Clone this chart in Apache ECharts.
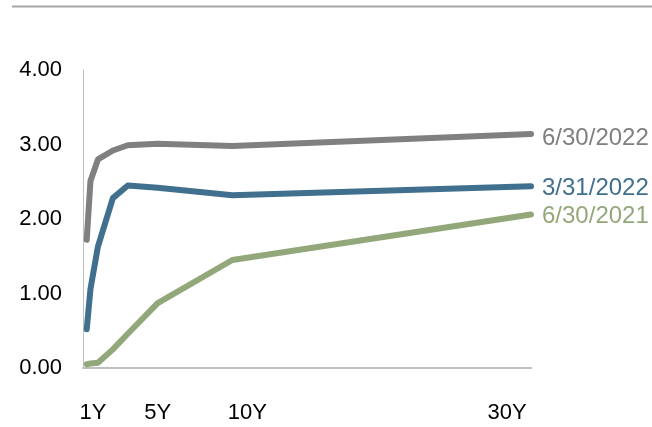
<!DOCTYPE html>
<html>
<head>
<meta charset="utf-8">
<script src="https://cdn.jsdelivr.net/npm/echarts@6/dist/echarts.min.js"></script>
<style>html,body{margin:0;padding:0;background:#fff}#c{width:652px;height:427px}</style>
</head>
<body>
<div id="c"></div>
<script>
// maturities in years
var maturities = [0.25, 0.5, 1, 2, 3, 5, 10, 30];
var seriesNames = ['6/30/2022', '3/31/2022', '6/30/2021'];
var y20220630 = [1.72, 2.51, 2.80, 2.92, 2.99, 3.01, 2.98, 3.14];
var y20220331 = [0.52, 1.06, 1.63, 2.28, 2.45, 2.42, 2.32, 2.44];
var y20210630 = [0.05, 0.06, 0.07, 0.25, 0.46, 0.87, 1.45, 2.06];
var xTickLabels = ['1Y', '5Y', '10Y', '30Y'];
var xTickPositions = [0.67, 5.0, 11.0, 28.4];
var yTicks = [0, 1, 2, 3, 4];

var colors = ['#808080', '#40708d', '#93a87a'];
var allData = [y20220630, y20220331, y20210630];

function pairs(arr) { return maturities.map(function (m, i) { return [m, arr[i]]; }); }

var chart = echarts.init(document.getElementById('c'));
chart.setOption({
  animation: false,
  grid: { left: 83, right: 121, top: 70, bottom: 59, containLabel: false },
  graphic: [{
    type: 'line', shape: { x1: 12, y1: 6.5, x2: 652, y2: 6.5 },
    style: { stroke: '#a6a6a6', lineWidth: 2 }
  }],
  xAxis: {
    type: 'value', min: 0, max: 30,
    axisLine: { show: true, lineStyle: { color: '#bfbfbf', width: 2 } },
    axisTick: { show: false },
    splitLine: { show: false },
    axisLabel: {
      customValues: xTickPositions,
      formatter: function (v) {
        var i = xTickPositions.indexOf(v);
        return i >= 0 ? xTickLabels[i] : '';
      },
      fontFamily: 'Liberation Sans, Arial, sans-serif', fontSize: 22, color: '#000', margin: 34
    }
  },
  yAxis: {
    type: 'value', min: yTicks[0], max: yTicks[yTicks.length - 1], interval: 1,
    axisLine: { show: true, lineStyle: { color: '#bfbfbf', width: 1 } },
    axisTick: { show: false },
    splitLine: { show: false },
    axisLabel: {
      formatter: function (v) { return v.toFixed(2); },
      fontFamily: 'Liberation Sans, Arial, sans-serif', fontSize: 22, color: '#000', margin: 21
    }
  },
  series: seriesNames.map(function (name, i) {
    return {
      name: name, type: 'line', data: pairs(allData[i]),
      symbol: 'none', smooth: false,
      lineStyle: { color: colors[i], width: 6, cap: 'round', join: 'round' },
      endLabel: {
        show: true, formatter: '{a}', color: colors[i], distance: 11,
        fontFamily: 'Liberation Sans, Arial, sans-serif', fontSize: 24,
        offset: [0, i === 0 ? 4 : 2]
      }
    };
  })
});
</script>
</body>
</html>
